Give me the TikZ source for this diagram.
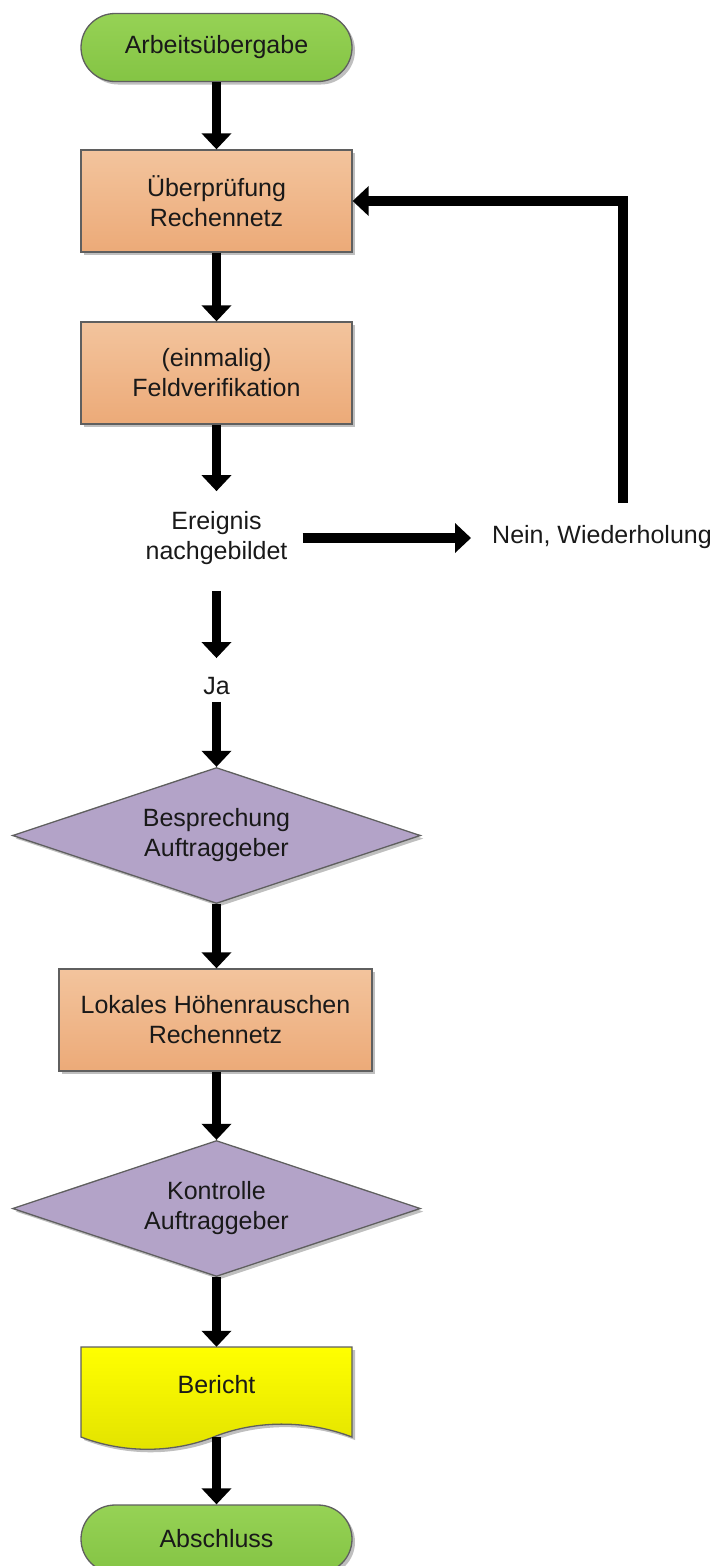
\documentclass[tikz,border=0pt]{standalone}
\usepackage{fontspec}
\setmainfont{Liberation Sans}
\usetikzlibrary{shapes.geometric,arrows.meta,shadows}
\definecolor{bordergray}{RGB}{95,95,95}
\definecolor{greentop}{RGB}{150,210,85}
\definecolor{greenbot}{RGB}{132,196,68}
\definecolor{orangetop}{RGB}{243,196,157}
\definecolor{orangebot}{RGB}{236,170,120}
\definecolor{lilac}{RGB}{179,163,200}
\definecolor{yellowtop}{RGB}{255,255,0}
\definecolor{yellowbot}{RGB}{226,226,0}
\definecolor{txt}{RGB}{25,25,25}
\begin{document}
\begin{tikzpicture}[x=1pt,y=-1pt,
  font=\fontsize{25}{30}\selectfont,
  every node/.style={text=txt, align=center},
  myshadow/.style={drop shadow={shadow xshift=3pt, shadow yshift=-3pt, opacity=0.25, fill=black}},
  term/.style={draw=bordergray, line width=1.3pt, top color=greentop, bottom color=greenbot,
    rounded corners=34pt, minimum width=271pt, minimum height=68pt, inner sep=0pt, myshadow},
  stepbox/.style={draw=bordergray, line width=1.3pt, top color=orangetop, bottom color=orangebot,
    minimum width=271pt, minimum height=102pt, inner sep=0pt, myshadow},
  decision/.style={diamond, aspect=3, draw=bordergray, line width=1.3pt, fill=lilac,
    minimum width=408pt, minimum height=136pt, inner sep=0pt, myshadow},
  plain/.style={inner sep=0pt},
  arr/.style={line width=9.5pt, -{Triangle[width=29pt,length=16pt]}}
]
\useasboundingbox (0,0) rectangle (727,1566);

% document shape behind the Bericht node
\path[draw=bordergray, line width=1.3pt, top color=yellowtop, bottom color=yellowbot, myshadow]
  (81,1347) -- (352,1347) -- (352,1437)
  .. controls (305,1419) and (255,1421) .. (216,1436)
  .. controls (175,1453) and (125,1454) .. (81,1437) -- cycle;

\node[term] (start) at (216.5,47.5) {Arbeitsübergabe};
\node[stepbox] (pruef) at (216.5,201) {Überprüfung\\Rechennetz};
\node[stepbox] (feld) at (216.5,373) {(einmalig)\\Feldverifikation};
\node[plain] (ereig) at (216.5,538) {Ereignis\\nachgebildet};
\node[plain, anchor=west] (nein) at (492,537) {Nein, Wiederholung};
\node[plain] (ja) at (216.5,686) {Ja};
\node[decision] (bespr) at (216.5,835.5) {Besprechung\\Auftraggeber};
\node[stepbox, minimum width=313pt] (lokal) at (215.5,1020) {Lokales Höhenrauschen\\Rechennetz};
\node[decision] (kontr) at (216.5,1208.5) {Kontrolle\\Auftraggeber};
\node[plain, minimum width=271pt, minimum height=90pt, text height=18pt, text depth=16pt] (bericht) at (216.5,1392) {Bericht};
\node[term] (ende) at (216.5,1539) {Abschluss};

\coordinate (fbot) at (623,503);

\draw[arr] (start.south) -- (pruef.north);
\draw[arr] (pruef.south) -- (feld.north);
\draw[arr] (feld.south) -- ([yshift=20pt]ereig.north);
\draw[arr] ([xshift=15pt]ereig.east) -- ([xshift=-21pt]nein.west |- ereig.east);
\draw[arr] (fbot) |- (pruef.east);
\draw[arr] ([yshift=-26pt]ereig.south) -- ([yshift=19pt]ja.north);
\draw[arr] ([yshift=-7pt]ja.south) -- (bespr.north);
\draw[arr] (bespr.south) -- (bespr.south |- lokal.north);
\draw[arr] (kontr.north |- lokal.south) -- (kontr.north);
\draw[arr] (kontr.south) -- (bericht.north);
\draw[arr] (bericht.south) -- (ende.north);
\end{tikzpicture}
\end{document}
